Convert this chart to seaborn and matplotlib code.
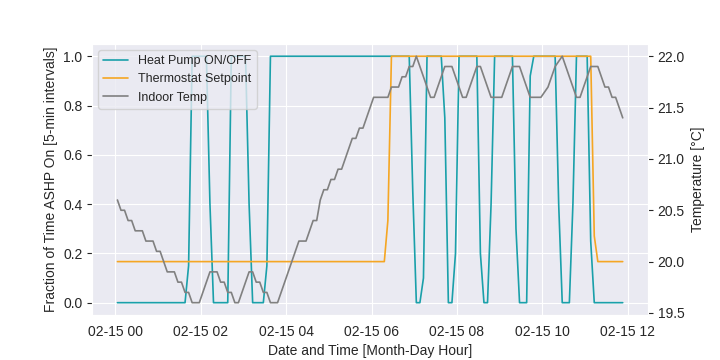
import numpy as np
import pandas as pd
import matplotlib
matplotlib.use("Agg")
import matplotlib.pyplot as plt
import seaborn as sns

# ---- data (5-min intervals) ----
start_time = "2023-02-15 00:03"
n_points = 143

heat_pump = (
    [0.0] * 20 + [0.15] + [1.0] * 5 + [0.4] + [0.0] * 5 + [1.0] * 5 + [0.4] +
    [0.0] * 4 + [0.15] + [1.0] * 40 + [0.45] + [0.0] * 2 + [0.1] + [1.0] * 5 +
    [0.75] + [0.0] * 2 + [0.2] + [1.0] * 6 + [0.2] + [0.0] * 2 + [0.4] +
    [1.0] * 6 + [0.3] + [0.0] * 3 + [0.92] + [1.0] * 7 + [0.4] + [0.0] * 3 +
    [0.4] + [1.0] * 4 + [0.25] + [0.0] * 9
)

setpoint = [20.0] * 76 + [20.4] + [22.0] * 57 + [20.25] + [20.0] * 8

indoor_temp = [
    20.6, 20.5, 20.5, 20.4, 20.4, 20.3, 20.3, 20.3, 20.2, 20.2,
    20.2, 20.1, 20.1, 20.0, 19.9, 19.9, 19.9, 19.8, 19.8, 19.7,
    19.7, 19.6, 19.6, 19.6, 19.7, 19.8, 19.9, 19.9, 19.9, 19.8,
    19.8, 19.7, 19.7, 19.6, 19.6, 19.7, 19.8, 19.9, 19.9, 19.8,
    19.8, 19.7, 19.7, 19.6, 19.6, 19.6, 19.7, 19.8, 19.9, 20.0,
    20.1, 20.2, 20.2, 20.2, 20.3, 20.4, 20.4, 20.6, 20.7, 20.7,
    20.8, 20.8, 20.9, 20.9, 21.0, 21.1, 21.2, 21.2, 21.3, 21.3,
    21.4, 21.5, 21.6, 21.6, 21.6, 21.6, 21.6, 21.7, 21.7, 21.7,
    21.8, 21.8, 21.9, 21.9, 22.0, 21.9, 21.8, 21.7, 21.6, 21.6,
    21.7, 21.8, 21.9, 21.9, 21.9, 21.8, 21.7, 21.6, 21.6, 21.7,
    21.8, 21.9, 21.9, 21.8, 21.7, 21.6, 21.6, 21.6, 21.6, 21.7,
    21.8, 21.9, 21.9, 21.9, 21.8, 21.7, 21.6, 21.6, 21.6, 21.6,
    21.65, 21.7, 21.8, 21.9, 21.95, 22.0, 21.9, 21.8, 21.7, 21.6,
    21.6, 21.7, 21.8, 21.9, 21.9, 21.9, 21.8, 21.7, 21.7, 21.6,
    21.6, 21.5, 21.4,
]

times = pd.date_range(start_time, periods=n_points, freq="5min")
df = pd.DataFrame({
    "time": times,
    "hp": heat_pump,
    "setpoint": setpoint,
    "temp": indoor_temp,
})

sns.set_style("darkgrid")
plt.rcParams["font.family"] = ["Liberation Sans", "DejaVu Sans"]
plt.rcParams["font.size"] = 10

fig, ax1 = plt.subplots(figsize=(7.2, 3.6), dpi=100)
fig.subplots_adjust(left=0.128, right=0.9, bottom=0.125, top=0.878)

teal = "#1aa0aa"
orange = "#f5a623"
gray = "#808080"

sns.lineplot(data=df, x="time", y="hp", ax=ax1, color=teal, lw=1.2,
             label="Heat Pump ON/OFF", legend=False)
ax2 = ax1.twinx()
sns.lineplot(data=df, x="time", y="setpoint", ax=ax2, color=orange, lw=1.2,
             label="Thermostat Setpoint", legend=False)
sns.lineplot(data=df, x="time", y="temp", ax=ax2, color=gray, lw=1.2,
             label="Indoor Temp", legend=False)
ax2.grid(False)

ax1.set_ylabel("Fraction of Time ASHP On [5-min intervals]")
ax1.set_xlabel("Date and Time [Month-Day Hour]")
ax2.set_ylabel("Temperature [°C]")

h1, l1 = ax1.get_legend_handles_labels()
h2, l2 = ax2.get_legend_handles_labels()
leg = ax2.legend(h1 + h2, l1 + l2, loc="upper left", fontsize=9)

fig.savefig("out.png", dpi=100)
